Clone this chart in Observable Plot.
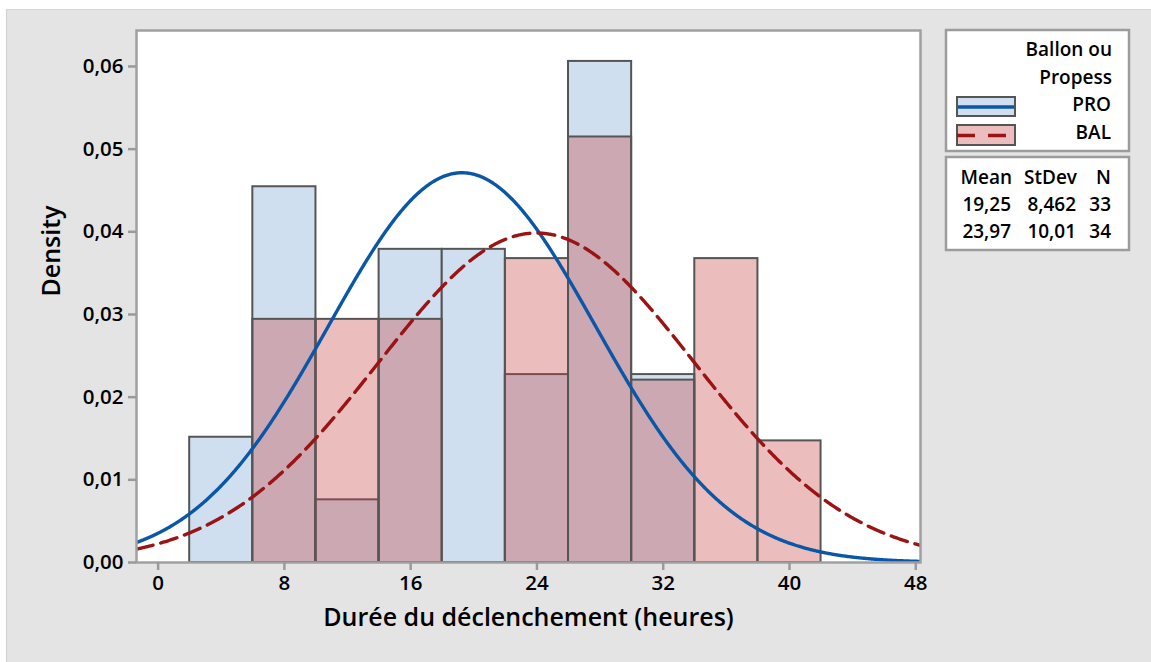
<!DOCTYPE html>
<html><head><meta charset="utf-8">
<script src="https://cdn.jsdelivr.net/npm/d3@7"></script>
<script src="https://cdn.jsdelivr.net/npm/@observablehq/plot@0.6"></script>
<style>
body{margin:0;background:#fff;}
#wrap{position:relative;width:1151px;height:662px;overflow:hidden;font-family:"Open Sans",sans-serif;}
#bg{position:absolute;left:6px;top:9px;right:0;bottom:0;background:#e4e4e4;border-left:1px solid #d0d0d0;border-top:1px solid #d6d6d6;}
#chart{position:absolute;left:0;top:0;}
#legend{position:absolute;left:0;top:0;}
</style></head>
<body><div id="wrap"><div id="bg"></div><div id="chart"></div><svg id="legend" width="1151" height="662"></svg></div>
<script>
// ---- data ----
const binStart = [2, 6, 10, 14, 18, 22, 26, 30, 34, 38];
const binWidth = 4;
const proDensity = [0.01515, 0.04545, 0.00758, 0.03788, 0.03788, 0.02273, 0.06061, 0.02273, 0, 0];
const balDensity = [0, 0.02941, 0.02941, 0.02941, 0, 0.03676, 0.05147, 0.02206, 0.03676, 0.01471];
const groups = ["PRO", "BAL"];
const means = [19.25, 23.97];
const stdevs = [8.462, 10.01];
const counts = [33, 34];
const meanLabels = ["19,25", "23,97"];
const sdLabels = ["8,462", "10,01"];
const xTicks = [0, 8, 16, 24, 32, 40, 48];
const yTicks = [0, 0.01, 0.02, 0.03, 0.04, 0.05, 0.06];

const xDomain = [-1.37, 48.3];
const colors = {PRO: "#0b57a7", BAL: "#9b1414"};

const proBars = binStart.map((s, i) => ({x1: s, x2: s + binWidth, y: proDensity[i]})).filter(d => d.y > 0);
const balBars = binStart.map((s, i) => ({x1: s, x2: s + binWidth, y: balDensity[i]})).filter(d => d.y > 0);

// fitted normal curves from the displayed mean / stdev
function normalCurve(m, s) {
  const pts = [];
  for (let x = xDomain[0]; x <= xDomain[1] + 1e-9; x += 0.05) {
    pts.push({x, y: Math.exp(-0.5 * ((x - m) / s) ** 2) / (s * Math.sqrt(2 * Math.PI))});
  }
  return pts;
}
const proCurve = normalCurve(means[0], stdevs[0]);
const balCurve = normalCurve(means[1], stdevs[1]);

const fmt = d => d.toFixed(2).replace(".", ",");

const chart = Plot.plot({
  width: 1151, height: 662,
  marginLeft: 136, marginRight: 231, marginTop: 30, marginBottom: 100,
  style: {fontFamily: "'Open Sans', sans-serif", fontSize: "20.5px", fontWeight: 600, background: "transparent", color: "black", overflow: "visible"},
  x: {domain: xDomain},
  y: {domain: [0, 0.06435]},
  marks: [
    Plot.frame({fill: "white", stroke: null}),
    Plot.rect(proBars, {x1: "x1", x2: "x2", y1: 0, y2: "y", fill: "#d0dff0", stroke: "#555555", strokeWidth: 2}),
    Plot.rect(balBars, {x1: "x1", x2: "x2", y1: 0, y2: "y", fill: "rgb(198,66,66)", fillOpacity: 0.35, stroke: "#555555", strokeWidth: 2}),
    Plot.line(proCurve, {x: "x", y: "y", stroke: colors.PRO, strokeWidth: 3.4, clip: true}),
    Plot.line(balCurve, {x: "x", y: "y", stroke: colors.BAL, strokeWidth: 3.4, strokeDasharray: "17,8", clip: true}),
    Plot.frame({stroke: "#a0a0a0", strokeWidth: 2.5}),
    Plot.axisX({ticks: xTicks, tickSize: 8, tickPadding: 5, tickFormat: d => String(d), stroke: "#9a9a9a", strokeWidth: 2.5, fill: "black", label: null, fontSize: 20.5}),
    Plot.axisY({ticks: yTicks, tickSize: 8, tickPadding: 5, tickFormat: fmt, stroke: "#9a9a9a", strokeWidth: 2.5, fill: "black", label: null, fontSize: 20.5}),
    Plot.text(["Durée du déclenchement (heures)"], {frameAnchor: "bottom", dy: 63, fontSize: 25, fontWeight: 600, fill: "black"}),
    Plot.text(["Density"], {frameAnchor: "left", dx: -85, rotate: -90, fontSize: 25, fontWeight: 600, fill: "black"})
  ]
});
document.getElementById("chart").appendChild(chart);

// ---- legend ----
const lg = d3.select("#legend").style("font-family", "'Open Sans', sans-serif").style("font-weight", 600);
lg.append("rect").attr("x", 946).attr("y", 30).attr("width", 183).attr("height", 121).attr("fill", "white").attr("stroke", "#9c9c9c").attr("stroke-width", 2.5);
lg.append("rect").attr("x", 946).attr("y", 157).attr("width", 183).attr("height", 93).attr("fill", "white").attr("stroke", "#9c9c9c").attr("stroke-width", 2.5);
const T = (x, y, s) => lg.append("text").attr("x", x).attr("y", y).attr("text-anchor", "end").attr("dominant-baseline", "central").attr("font-size", 19).attr("fill", "black").text(s);
T(1112, 49, "Ballon ou");
T(1112, 77, "Propess");
T(1111, 104, groups[0]);
T(1111, 132, groups[1]);
// swatches
lg.append("rect").attr("x", 957).attr("y", 97).attr("width", 58).attr("height", 19).attr("fill", "#d0dff0").attr("stroke", "#555").attr("stroke-width", 2);
lg.append("line").attr("x1", 958).attr("x2", 1014).attr("y1", 107).attr("y2", 107).attr("stroke", colors.PRO).attr("stroke-width", 3.4);
lg.append("rect").attr("x", 957).attr("y", 125).attr("width", 58).attr("height", 20).attr("fill", "#ebbdbd").attr("stroke", "#555").attr("stroke-width", 2);
lg.append("line").attr("x1", 957).attr("x2", 1014).attr("y1", 135.5).attr("y2", 135.5).attr("stroke", colors.BAL).attr("stroke-width", 3.4).attr("stroke-dasharray", "18,13");
// stats table
T(1012, 177, "Mean"); T(1077, 177, "StDev"); T(1111, 177, "N");
groups.forEach((g, i) => {
  const y = 204 + i * 27;
  T(1011, y, meanLabels[i]);
  T(1076, y, sdLabels[i]);
  T(1111, y, String(counts[i]));
});
</script>
</body></html>
